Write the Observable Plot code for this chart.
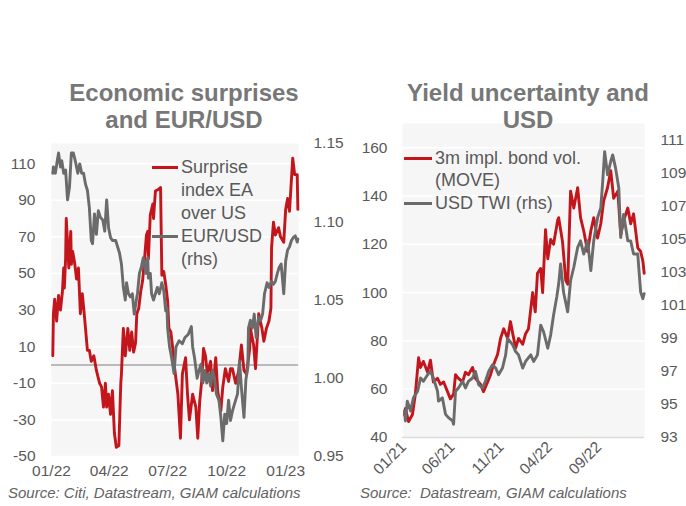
<!DOCTYPE html>
<html><head><meta charset="utf-8">
<script src="https://cdn.jsdelivr.net/npm/d3@7"></script>
<script src="https://cdn.jsdelivr.net/npm/@observablehq/plot@0.6"></script>
<style>
body{margin:0;background:#fff;font-family:"Liberation Sans",Arial,sans-serif;}
#root{position:relative;width:686px;height:506px;overflow:hidden;}
.abs{position:absolute;}
.title{font-weight:bold;font-size:24px;line-height:27px;color:#777;text-align:center;width:340px;}
.leg{font-size:18px;color:#595959;}
.leg .row{display:flex;align-items:center;white-space:nowrap;}
.leg .seg{display:inline-block;height:3px;margin-right:3px;}
.cap{font-style:italic;font-size:15px;line-height:18px;color:#636363;white-space:pre;}
</style></head>
<body><div id="root"></div>
<script>
// ---------- Left panel data ----------
const leftTitle = ["Economic surprises", "and EUR/USD"];
const surpriseDates = ["2022-01-03","2022-01-04","2022-01-06","2022-01-09","2022-01-12","2022-01-15","2022-01-18","2022-01-20","2022-01-21","2022-01-23","2022-01-24","2022-01-26","2022-01-28","2022-01-31","2022-02-01","2022-02-03","2022-02-06","2022-02-09","2022-02-12","2022-02-15","2022-02-18","2022-02-21","2022-02-26","2022-03-01","2022-03-04","2022-03-08","2022-03-12","2022-03-17","2022-03-20","2022-03-23","2022-03-26","2022-03-28","2022-03-31","2022-04-03","2022-04-06","2022-04-09","2022-04-12","2022-04-16","2022-04-19","2022-04-20","2022-04-23","2022-04-26","2022-04-30","2022-05-03","2022-05-06","2022-05-09","2022-05-12","2022-05-14","2022-05-17","2022-05-20","2022-05-23","2022-05-26","2022-05-29","2022-05-31","2022-06-01","2022-06-04","2022-06-08","2022-06-09","2022-06-12","2022-06-17","2022-06-20","2022-06-22","2022-06-25","2022-06-28","2022-07-01","2022-07-03","2022-07-06","2022-07-09","2022-07-12","2022-07-17","2022-07-21","2022-07-24","2022-07-29","2022-08-01","2022-08-04","2022-08-09","2022-08-14","2022-08-17","2022-08-20","2022-08-23","2022-08-26","2022-08-29","2022-09-01","2022-09-06","2022-09-09","2022-09-14","2022-09-17","2022-09-22","2022-09-25","2022-09-29","2022-10-04","2022-10-07","2022-10-10","2022-10-15","2022-10-20","2022-10-24","2022-10-28","2022-11-01","2022-11-06","2022-11-07","2022-11-12","2022-11-15","2022-11-20","2022-11-25","2022-11-28","2022-12-02","2022-12-06","2022-12-09","2022-12-10","2022-12-13","2022-12-16","2022-12-21","2022-12-24","2022-12-29","2023-01-01","2023-01-04","2023-01-07","2023-01-12","2023-01-15","2023-01-19","2023-01-20"];
const surpriseValues = [5,28,36,24,38,30,40,53,42,58,80,67,53,73,55,62,56,47,53,28,39,28,8,8,2,5,-3,-10,-12,-23,-10,-23,-16,-27,-14,-37,-45,-44,-10,-5,20,5,20,8,18,7,12,28,31,40,46,58,71,73,58,82,88,80,95,96,97,49,51,44,35,20,18,9,-2,-16,-40,-5,4,-16,-30,-16,-23,-40,-20,-9,9,5,-5,2,-14,4,-14,-25,-12,-2,-9,-2,-2,-10,-3,11,-3,-5,9,20,11,-2,28,20,13,20,24,31,64,78,71,75,70,67,85,91,84,113,104,104,85];
const eurusdDates = ["2022-01-03","2022-01-04","2022-01-07","2022-01-10","2022-01-12","2022-01-15","2022-01-17","2022-01-20","2022-01-23","2022-01-26","2022-01-29","2022-02-01","2022-02-04","2022-02-07","2022-02-11","2022-02-14","2022-02-17","2022-02-20","2022-02-23","2022-02-26","2022-03-01","2022-03-04","2022-03-06","2022-03-09","2022-03-12","2022-03-15","2022-03-18","2022-03-22","2022-03-25","2022-03-28","2022-03-31","2022-04-03","2022-04-06","2022-04-11","2022-04-14","2022-04-17","2022-04-20","2022-04-23","2022-04-26","2022-04-28","2022-05-01","2022-05-04","2022-05-07","2022-05-10","2022-05-14","2022-05-15","2022-05-18","2022-05-21","2022-05-24","2022-05-28","2022-05-31","2022-06-01","2022-06-04","2022-06-06","2022-06-09","2022-06-12","2022-06-15","2022-06-18","2022-06-22","2022-06-25","2022-06-28","2022-06-30","2022-07-01","2022-07-04","2022-07-06","2022-07-08","2022-07-11","2022-07-14","2022-07-19","2022-07-24","2022-07-28","2022-08-02","2022-08-07","2022-08-09","2022-08-12","2022-08-16","2022-08-19","2022-08-22","2022-08-25","2022-08-28","2022-08-31","2022-09-03","2022-09-06","2022-09-09","2022-09-12","2022-09-15","2022-09-19","2022-09-22","2022-09-25","2022-09-28","2022-10-01","2022-10-04","2022-10-07","2022-10-10","2022-10-15","2022-10-18","2022-10-21","2022-10-24","2022-10-28","2022-10-31","2022-11-03","2022-11-04","2022-11-07","2022-11-10","2022-11-13","2022-11-16","2022-11-20","2022-11-23","2022-11-26","2022-11-29","2022-12-03","2022-12-06","2022-12-10","2022-12-13","2022-12-16","2022-12-19","2022-12-22","2022-12-25","2022-12-29","2023-01-01","2023-01-04","2023-01-07","2023-01-10","2023-01-13","2023-01-16","2023-01-19","2023-01-20"];
const eurusdValues = [1.131,1.135,1.131,1.139,1.144,1.135,1.139,1.131,1.133,1.114,1.122,1.144,1.144,1.139,1.131,1.137,1.131,1.131,1.124,1.120,1.109,1.088,1.086,1.105,1.092,1.107,1.103,1.101,1.094,1.114,1.096,1.090,1.088,1.088,1.084,1.080,1.073,1.058,1.050,1.061,1.054,1.052,1.054,1.041,1.052,1.054,1.067,1.071,1.077,1.067,1.077,1.064,1.067,1.054,1.050,1.054,1.058,1.054,1.061,1.056,1.043,1.045,1.032,1.020,1.016,1.011,1.003,1.020,1.024,1.022,1.026,1.028,1.033,1.020,1.013,1.000,1.005,1.009,0.997,1.005,0.997,1.003,0.995,1.005,1.000,0.990,0.986,0.975,0.960,0.977,0.971,0.986,0.973,0.979,0.986,0.990,1.011,0.994,0.975,0.999,1.007,1.032,1.037,1.032,1.041,1.026,1.039,1.037,1.041,1.054,1.061,1.058,1.062,1.060,1.062,1.067,1.071,1.073,1.054,1.075,1.082,1.084,1.088,1.090,1.091,1.087,1.089];
const leftXTicks = ["2022-01-01","2022-04-01","2022-07-01","2022-10-01","2023-01-01"];
const leftYTicks = [-50,-30,-10,10,30,50,70,90,110];
const leftY2Ticks = [0.95,1.00,1.05,1.10,1.15];
const leftLegend = ["Surprise","index EA","over US","EUR/USD","(rhs)"];
const leftSource = "Source: Citi, Datastream, GIAM calculations";

// ---------- Right panel data ----------
const rightTitle = ["Yield uncertainty and", "USD"];
const moveDates = ["2021-01-04","2021-01-07","2021-01-17","2021-01-29","2021-02-07","2021-02-17","2021-02-23","2021-03-04","2021-03-17","2021-03-26","2021-04-04","2021-04-17","2021-04-26","2021-05-06","2021-05-18","2021-05-27","2021-06-06","2021-06-12","2021-06-21","2021-07-04","2021-07-13","2021-07-22","2021-08-04","2021-08-13","2021-08-29","2021-09-07","2021-09-20","2021-09-29","2021-10-08","2021-10-21","2021-10-30","2021-11-09","2021-11-21","2021-11-30","2021-12-07","2021-12-16","2021-12-25","2022-01-07","2022-01-16","2022-01-25","2022-02-07","2022-02-15","2022-02-22","2022-03-04","2022-03-10","2022-03-19","2022-03-26","2022-04-04","2022-04-13","2022-04-26","2022-04-29","2022-05-11","2022-05-21","2022-05-27","2022-06-05","2022-06-15","2022-06-27","2022-07-06","2022-07-16","2022-07-28","2022-08-07","2022-08-16","2022-08-28","2022-09-07","2022-09-16","2022-09-28","2022-10-08","2022-10-17","2022-10-30","2022-11-08","2022-11-17","2022-11-30","2022-12-09","2022-12-18","2022-12-31","2023-01-09","2023-01-16","2023-01-20"];
const moveValues = [49.5,52,46.6,49.5,58,73,69,71.5,67,72,63,64.5,62,63,59,56,58,66,64.5,63,67,66,69,64.5,62,59,63,66,70,74.5,81,85,81,88,83,77,81,78.6,83,85,100,92,108,110,100,126,114,122,120,130,131,121,105,103.5,142,135,143.4,131,125.5,117,125.5,131,122.6,128.5,138,143.4,150.5,139,142,124,129.7,135,128.5,132.6,118.5,117,113,108];
const twiDates = ["2021-01-04","2021-01-07","2021-01-13","2021-01-23","2021-02-01","2021-02-14","2021-02-23","2021-03-04","2021-03-17","2021-03-26","2021-04-04","2021-04-17","2021-04-20","2021-05-02","2021-05-12","2021-05-21","2021-06-03","2021-06-06","2021-06-12","2021-06-21","2021-07-04","2021-07-13","2021-07-22","2021-08-04","2021-08-13","2021-08-23","2021-09-04","2021-09-13","2021-09-23","2021-10-05","2021-10-15","2021-10-24","2021-11-05","2021-11-15","2021-11-21","2021-12-07","2021-12-16","2021-12-25","2022-01-07","2022-01-16","2022-02-01","2022-02-10","2022-02-22","2022-03-04","2022-03-13","2022-03-26","2022-04-04","2022-04-13","2022-04-23","2022-04-29","2022-05-05","2022-05-14","2022-05-27","2022-06-05","2022-06-15","2022-06-27","2022-07-06","2022-07-16","2022-07-28","2022-08-07","2022-08-16","2022-08-28","2022-09-07","2022-09-13","2022-09-19","2022-09-28","2022-10-08","2022-10-14","2022-10-23","2022-11-02","2022-11-08","2022-11-17","2022-11-30","2022-12-09","2022-12-18","2022-12-31","2023-01-09","2023-01-16","2023-01-20"];
const twiValues = [94.6,94.0,95.2,94.6,95.4,95.8,96.6,96.4,96.8,97,96.6,95.8,95.2,95.4,94.4,94.2,94.0,93.8,95.8,96,96.4,96,96.4,96.6,97,96.2,96,96.4,97,97.4,97.2,96.8,97.2,98,99,98.6,98.2,98,97.2,97.6,98,97.6,98,99.8,99.4,98.4,99.2,100.4,101.5,102.3,103.5,101.8,100.6,102.5,103.3,104.5,104.9,104.1,104.9,103.1,104.9,106.3,106.9,108.5,110.3,108.9,109.7,110.1,109.3,108.1,105.1,106.5,104.9,104.9,104.1,104.1,101.8,101.4,101.7];
const rightXTicks = ["2021-01-01","2021-06-01","2021-11-01","2022-04-01","2022-09-01"];
const rightYTicks = [40,60,80,100,120,140,160];
const rightY2Ticks = [93,95,97,99,101,103,105,107,109,111];
const rightLegend = ["3m impl. bond vol.","(MOVE)","USD TWI (rhs)"];
const rightSource = "Source:  Datastream, GIAM calculations";

// ---------- Styling ----------
const RED = "#c3161c", GRAY = "#6b6b6b", TXT = "#595959", BG = "#f6f6f6";
const FONT = "'Liberation Sans', Arial, sans-serif";
const LW = 2.9;
const root = document.getElementById("root");

function zip(dates, values) { return dates.map((d, i) => ({date: new Date(d), value: values[i]})); }

function place(el, left, top) { el.classList.add("abs"); el.style.left = left + "px"; el.style.top = top + "px"; root.appendChild(el); return el; }

function titleDiv(lines, left, top) {
  const d = document.createElement("div"); d.className = "title";
  d.innerHTML = lines.join("<br>"); return place(d, left, top);
}
function legendDiv(rows, left, top, lineH) {
  const d = document.createElement("div"); d.className = "leg";
  rows.forEach(r => {
    const row = document.createElement("div"); row.className = "row"; row.style.height = lineH + "px";
    const seg = document.createElement("span"); seg.className = "seg"; seg.style.width = r.w + "px";
    seg.style.background = r.color || "transparent";
    row.appendChild(seg);
    const t = document.createElement("span"); t.textContent = r.text; row.appendChild(t);
    d.appendChild(row);
  });
  return place(d, left, top);
}
function capDiv(text, left, top) { const d = document.createElement("div"); d.className = "cap"; d.textContent = text; return place(d, left, top); }
const plain = v => String(v);

// ---------- Left chart ----------
{
  const y2 = d3.scaleLinear().domain([0.95, 1.15]).range([-50, 121]);
  const surprise = zip(surpriseDates, surpriseValues);
  const eur = zip(eurusdDates, eurusdValues);
  const chart = Plot.plot({
    width: 340, height: 355, marginLeft: 51, marginRight: 42, marginTop: 13, marginBottom: 29,
    style: {background: "transparent", fontFamily: FONT, fontSize: "15.5px", color: TXT, overflow: "visible"},
    x: {type: "utc", domain: [new Date("2022-01-01"), new Date("2023-01-21")]},
    y: {domain: [-50, 121], label: null},
    marks: [
      Plot.frame({fill: BG, stroke: "none"}),
      Plot.gridY(leftYTicks, {stroke: "#fff", strokeOpacity: 1, strokeWidth: 1.5}),
      Plot.ruleY([0], {stroke: "#a6a6a6", strokeWidth: 1.6}),
      Plot.line(surprise, {x: "date", y: "value", stroke: RED, strokeWidth: LW}),
      Plot.line(eur, {x: "date", y: d => y2(d.value), stroke: GRAY, strokeWidth: LW}),
      Plot.axisY(leftYTicks, {anchor: "left", tickSize: 0, tickPadding: 16, label: null, tickFormat: plain}),
      Plot.axisY(leftY2Ticks.map(v => y2(v)), {anchor: "right", tickSize: 0, tickPadding: 15, label: null,
        tickFormat: v => d3.format(".2f")(y2.invert(v))}),
      Plot.axisX(leftXTicks.map(d => new Date(d)), {tickSize: 0, tickPadding: 8, label: null, tickFormat: d3.utcFormat("%m/%y")})
    ]
  });
  place(chart, 0, 130);
  titleDiv(leftTitle, 14, 79);
  legendDiv([
    {text: leftLegend[0], color: RED, w: 26},
    {text: leftLegend[1], w: 26},
    {text: leftLegend[2], w: 26},
    {text: leftLegend[3], color: GRAY, w: 26},
    {text: leftLegend[4], w: 26}
  ], 152, 155.5, 23);
  capDiv(leftSource, 8, 484);
}

// ---------- Right chart ----------
{
  const y2 = d3.scaleLinear().domain([93, 112]).range([40, 170]);
  const move = zip(moveDates, moveValues);
  const twi = zip(twiDates, twiValues);
  const chart = Plot.plot({
    width: 341, height: 380, marginLeft: 57, marginRight: 42, marginTop: 13, marginBottom: 53,
    style: {background: "transparent", fontFamily: FONT, fontSize: "15.5px", color: TXT, overflow: "visible"},
    x: {type: "utc", domain: [new Date("2020-12-29"), new Date("2023-01-21")]},
    y: {domain: [40, 170], label: null},
    marks: [
      Plot.frame({fill: BG, stroke: "none"}),
      Plot.gridY(rightYTicks.slice(1), {stroke: "#fff", strokeOpacity: 1, strokeWidth: 1.5}),
      Plot.ruleY([40], {stroke: "#dcdcdc", strokeWidth: 1.6}),
      Plot.line(move, {x: "date", y: "value", stroke: RED, strokeWidth: LW}),
      Plot.line(twi, {x: "date", y: d => y2(d.value), stroke: GRAY, strokeWidth: LW}),
      Plot.axisY(rightYTicks, {anchor: "left", tickSize: 0, tickPadding: 15, label: null, tickFormat: plain}),
      Plot.axisY(rightY2Ticks.map(v => y2(v)), {anchor: "right", tickSize: 0, tickPadding: 16, label: null,
        tickFormat: v => d3.format(".0f")(y2.invert(v))}),
      Plot.axisX(rightXTicks.map(d => new Date(d)), {tickSize: 0, tickPadding: 7, tickRotate: -45, label: null, tickFormat: d3.utcFormat("%m/%y")})
    ]
  });
  place(chart, 345, 110);
  titleDiv(rightTitle, 358, 79);
  legendDiv([
    {text: rightLegend[0], color: RED, w: 28},
    {text: rightLegend[1], w: 28},
    {text: rightLegend[2], color: GRAY, w: 28}
  ], 404, 147, 22.5);
  capDiv(rightSource, 360, 484);
}
</script></body></html>
